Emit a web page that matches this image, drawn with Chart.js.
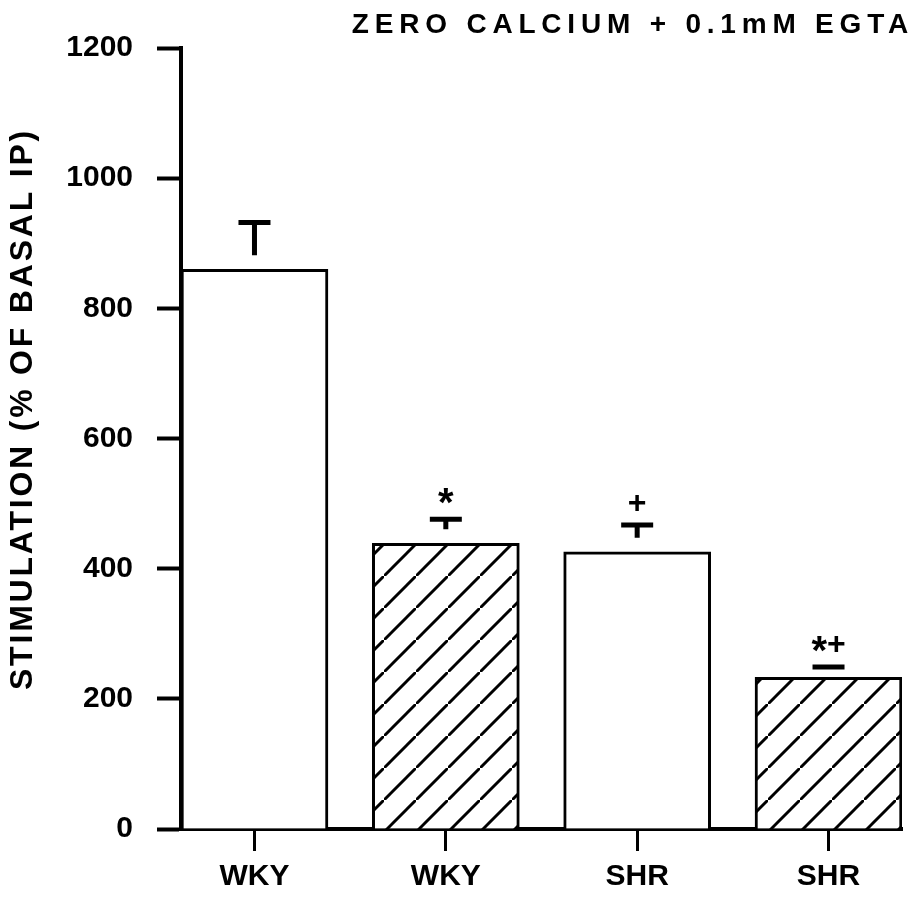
<!DOCTYPE html>
<html>
<head>
<meta charset="utf-8">
<script src="https://cdn.jsdelivr.net/npm/chart.js@4.4.1/dist/chart.umd.min.js"></script>
<style>
body { margin: 0; background: #fff; }
</style>
</head>
<body>
<canvas id="chart" width="916" height="897"></canvas>
<script>
// Daten
var categories = ["WKY", "WKY", "SHR", "SHR"];
var positions = [1, 2, 3, 4];
var values = [860, 439, 426, 233];
var errors = [72, 37, 41, 16];
var markers = ["", "*", "+", "*+"];
var hatched = [false, true, false, true];
var titleText = "ZERO CALCIUM + 0.1mM EGTA";
var yTitleText = "STIMULATION (% OF BASAL IP)";

var FONT = "'Liberation Sans', Arial, sans-serif";
var markerSize = {"*": 40, "+": 32};

function makeHatch() {
    var c = document.createElement("canvas");
    c.width = 32;
    c.height = 32;
    var g = c.getContext("2d");
    g.fillStyle = "#fff";
    g.fillRect(0, 0, 32, 32);
    g.strokeStyle = "#000";
    g.lineWidth = 3;
    g.beginPath();
    g.moveTo(-4, 36);
    g.lineTo(36, -4);
    g.stroke();
    return g.createPattern(c, "repeat");
}

// zeichnet "*" / "+" zeichenweise, jeweils vertikal zentriert
function drawMarker(ctx, text, cx, cy) {
    var chars = text.split("");
    var widths = [];
    var total = 0;
    chars.forEach(function (ch) {
        ctx.font = "bold " + markerSize[ch] + "px " + FONT;
        var w = ctx.measureText(ch).width;
        widths.push(w);
        total += w;
    });
    var x = cx - total / 2;
    chars.forEach(function (ch, k) {
        ctx.font = "bold " + markerSize[ch] + "px " + FONT;
        var m = ctx.measureText(ch);
        var base = cy + (m.actualBoundingBoxAscent - m.actualBoundingBoxDescent) / 2;
        ctx.fillText(ch, x, base);
        x += widths[k];
    });
}

// T-Balken + Sternchen
var errorBars = {
    id: "errorBars",
    afterDatasetsDraw: function (chart) {
        var ctx = chart.ctx;
        var y = chart.scales.y;
        var meta = chart.getDatasetMeta(0);
        ctx.save();
        ctx.strokeStyle = "#000";
        ctx.fillStyle = "#000";
        ctx.textAlign = "left";
        ctx.textBaseline = "alphabetic";
        meta.data.forEach(function (bar, i) {
            var top = y.getPixelForValue(values[i]);
            var cap = y.getPixelForValue(values[i] + errors[i]);
            ctx.lineWidth = 5;
            ctx.beginPath();
            ctx.moveTo(bar.x - 16, cap);
            ctx.lineTo(bar.x + 16, cap);
            if (cap < top - 14) {
                ctx.moveTo(bar.x, cap);
                ctx.lineTo(bar.x, top - 14);
            }
            ctx.stroke();
            if (markers[i]) {
                drawMarker(ctx, markers[i], bar.x, cap - 23);
            }
        });
        ctx.restore();
    }
};

var labels = {
    id: "labels",
    afterDraw: function (chart) {
        var ctx = chart.ctx;
        ctx.save();
        ctx.fillStyle = "#000";
        ctx.font = "bold 28px " + FONT;
        ctx.letterSpacing = "5.8px";
        ctx.textAlign = "right";
        ctx.textBaseline = "alphabetic";
        ctx.fillText(titleText, 914, 33);

        ctx.translate(23, 409);
        ctx.rotate(-Math.PI / 2);
        ctx.font = "bold 32px " + FONT;
        ctx.letterSpacing = "2.8px";
        ctx.textAlign = "center";
        ctx.textBaseline = "middle";
        ctx.fillText(yTitleText, 0, 0);
        ctx.restore();
    }
};

window.onload = function () {
    var hatch = makeHatch();
    var tickFont = {family: FONT, size: 30, weight: "bold"};

    new Chart(document.getElementById("chart").getContext("2d"), {
        type: "bar",
        data: {
            datasets: [{
                data: positions.map(function (p, i) { return {x: p, y: values[i]}; }),
                backgroundColor: hatched.map(function (h) { return h ? hatch : "#fff"; }),
                borderColor: "#000",
                borderWidth: 3,
                barThickness: 147
            }]
        },
        options: {
            responsive: false,
            animation: false,
            devicePixelRatio: 1,
            layout: {padding: {top: 48, right: 14, left: 0, bottom: 0}},
            plugins: {legend: {display: false}, tooltip: {enabled: false}},
            scales: {
                x: {
                    type: "linear",
                    min: 0.616,
                    max: 4.384,
                    offset: false,
                    grid: {offset: false, drawOnChartArea: false, tickLength: 22, tickWidth: 3, tickColor: "#000"},
                    border: {display: true, color: "#000", width: 4},
                    ticks: {
                        stepSize: 1,
                        includeBounds: false,
                        autoSkip: false,
                        maxRotation: 0,
                        color: "#000",
                        font: tickFont,
                        padding: 8,
                        callback: function (v) { return categories[positions.indexOf(v)] || ""; }
                    },
                    afterFit: function (s) { s.height = 68; }
                },
                y: {
                    min: 0,
                    max: 1200,
                    grid: {drawOnChartArea: false, tickLength: 24, tickWidth: 4, tickColor: "#000"},
                    border: {display: true, color: "#000", width: 4},
                    ticks: {
                        stepSize: 200,
                        color: "#000",
                        font: tickFont,
                        padding: 24,
                        callback: function (v) { return String(v); }
                    },
                    afterFit: function (s) { s.width = 181; }
                }
            }
        },
        plugins: [errorBars, labels]
    });
};
</script>
</body>
</html>
